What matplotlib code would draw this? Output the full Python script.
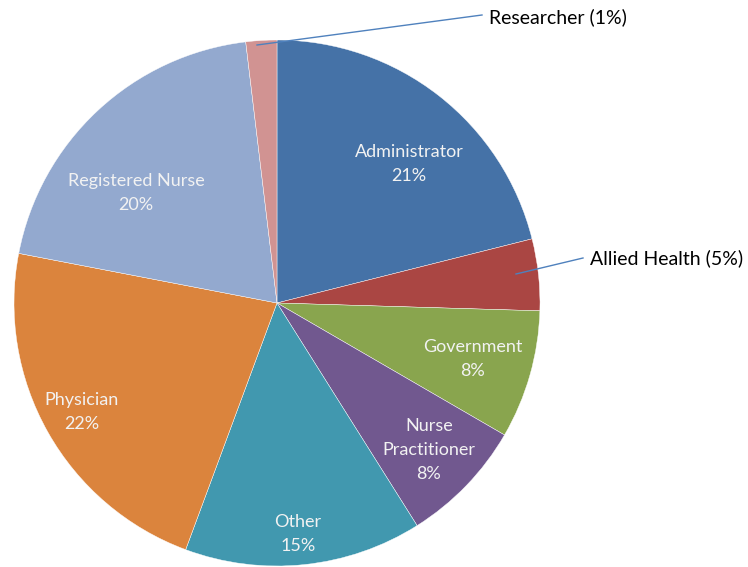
import matplotlib.pyplot as plt

# shares, labels as printed on the chart
roles = ["Administrator", "Allied Health", "Government", "Nurse\nPractitioner",
         "Other", "Physician", "Registered Nurse", "Researcher"]
shares = [21.1, 4.4, 7.9, 7.7, 14.6, 22.4, 20.1, 1.9]
pct_text = ["21%", "5%", "8%", "8%", "15%", "22%", "20%", "1%"]

colors = ["#4572A7", "#AA4643", "#89A54E", "#71588F",
          "#4198AF", "#DB843D", "#93A9CF", "#D19392"]

W, H = 748, 567
fig = plt.figure(figsize=(W / 100, H / 100), dpi=100)
ax = fig.add_axes([0, 0, 1, 1])

cx, cy, r = 277, H - 303, 263
ax.pie(shares, colors=colors, startangle=90, counterclock=False,
       center=(cx, cy), radius=r, frame=True,
       wedgeprops=dict(edgecolor="white", linewidth=0.3))
ax.set_xlim(0, W)
ax.set_ylim(0, H)
ax.set_aspect("equal")
ax.axis("off")

font = "Lato"
inside = "#F2F2F2"

# inside labels (pixel positions of the label centres)
inner_pos = {0: (409, 164), 2: (473, 359), 3: (429, 450),
             4: (298, 534), 5: (82, 412), 6: (136, 193)}
for i, (px, py) in inner_pos.items():
    ax.text(px, H - py, roles[i] + "\n" + pct_text[i], ha="center", va="center",
            color=inside, fontsize=13, family=font, linespacing=1.6)

# outside labels with leader lines
ax.plot([516, 583], [H - 274, H - 258], color="#4F81BD", lw=1)
ax.text(590, H - 258, "%s (%s)" % (roles[1], pct_text[1]), ha="left", va="center",
        color="black", fontsize=14, family=font)
ax.plot([257, 482], [H - 45, H - 15], color="#4F81BD", lw=1)
ax.text(489, H - 17, "%s (%s)" % (roles[7], pct_text[7]), ha="left", va="center",
        color="black", fontsize=14, family=font)

fig.savefig("out.png", dpi=100)
